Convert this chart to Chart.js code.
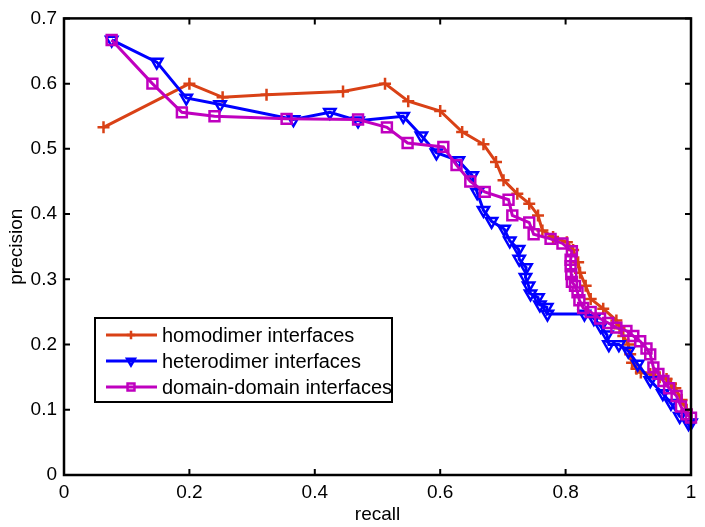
<!DOCTYPE html>
<html>
<head>
<meta charset="utf-8">
<script src="https://cdn.jsdelivr.net/npm/chart.js@4/dist/chart.umd.min.js"></script>
<style>
  html, body { margin: 0; padding: 0; background: #fff; }
  #wrap { width: 705px; height: 527px; position: relative; }
</style>
</head>
<body>
<div id="wrap"><canvas id="prChart"></canvas></div>
<script>
// precision / recall curves
const seriesLabels = ['homodimer interfaces', 'heterodimer interfaces', 'domain-domain interfaces'];

const homoRecall = [0.063, 0.2, 0.253, 0.323, 0.445, 0.512, 0.549, 0.6, 0.635, 0.669, 0.689, 0.701, 0.723, 0.742, 0.756, 0.763, 0.78, 0.802, 0.812, 0.82, 0.823, 0.832, 0.84, 0.86, 0.881, 0.886, 0.892, 0.9, 0.903, 0.906, 0.913, 0.92, 0.935, 0.95, 0.961, 0.968, 0.975, 0.985, 0.993, 1.0];
const homoPrecision = [0.533, 0.6, 0.579, 0.583, 0.588, 0.6, 0.573, 0.558, 0.526, 0.507, 0.48, 0.452, 0.431, 0.416, 0.398, 0.375, 0.365, 0.357, 0.345, 0.326, 0.31, 0.29, 0.27, 0.255, 0.237, 0.225, 0.213, 0.2, 0.185, 0.172, 0.163, 0.157, 0.155, 0.15, 0.147, 0.14, 0.133, 0.115, 0.1, 0.085];

const heteroRecall = [0.076, 0.148, 0.195, 0.249, 0.366, 0.424, 0.469, 0.541, 0.57, 0.594, 0.629, 0.651, 0.659, 0.669, 0.682, 0.702, 0.711, 0.725, 0.726, 0.737, 0.736, 0.741, 0.744, 0.756, 0.759, 0.77, 0.771, 0.83, 0.845, 0.856, 0.866, 0.869, 0.885, 0.9, 0.915, 0.935, 0.955, 0.968, 0.982, 0.996, 1.0];
const heteroPrecision = [0.667, 0.633, 0.578, 0.568, 0.545, 0.556, 0.543, 0.55, 0.52, 0.494, 0.482, 0.459, 0.433, 0.406, 0.389, 0.377, 0.359, 0.346, 0.331, 0.318, 0.303, 0.29, 0.278, 0.272, 0.261, 0.257, 0.247, 0.247, 0.24, 0.228, 0.215, 0.2, 0.2, 0.19, 0.17, 0.145, 0.125, 0.11, 0.09, 0.079, 0.08];

const domainRecall = [0.076, 0.141, 0.188, 0.24, 0.355, 0.469, 0.515, 0.548, 0.605, 0.626, 0.648, 0.671, 0.709, 0.715, 0.742, 0.749, 0.776, 0.795, 0.81, 0.808, 0.808, 0.809, 0.81, 0.815, 0.819, 0.822, 0.828, 0.84, 0.855, 0.868, 0.881, 0.897, 0.908, 0.919, 0.929, 0.935, 0.94, 0.948, 0.956, 0.965, 0.977, 0.984, 0.993, 1.0];
const domainPrecision = [0.667, 0.6, 0.556, 0.55, 0.546, 0.545, 0.533, 0.509, 0.503, 0.475, 0.45, 0.434, 0.422, 0.398, 0.387, 0.369, 0.362, 0.355, 0.343, 0.33, 0.32, 0.308, 0.296, 0.29, 0.28, 0.268, 0.256, 0.25, 0.24, 0.233, 0.226, 0.221, 0.213, 0.205, 0.194, 0.185, 0.165, 0.155, 0.144, 0.133, 0.121, 0.105, 0.093, 0.088];

const xTicks = [0, 0.2, 0.4, 0.6, 0.8, 1];
const yTicks = [0, 0.1, 0.2, 0.3, 0.4, 0.5, 0.6, 0.7];

const FONT = 'Liberation Sans, Arial, sans-serif';
const colors = ['rgb(217,65,22)', 'rgb(0,0,255)', 'rgb(191,0,191)'];
const markers = [
    { style: 'cross', radius: 6, rot: 0 },
    { style: 'triangle', radius: 6.5, rot: 180 },
    { style: 'rect', radius: 7, rot: 0 }
];

function toPoints(xs, ys) {
    return xs.map((x, i) => ({ x: x, y: ys[i] }));
}

function makeSet(i, xs, ys) {
    return {
        label: seriesLabels[i],
        data: toPoints(xs, ys),
        showLine: true,
        borderColor: colors[i],
        borderWidth: 3,
        backgroundColor: 'transparent',
        pointStyle: markers[i].style,
        pointRotation: markers[i].rot,
        pointRadius: markers[i].radius,
        pointBorderWidth: 2.5,
        pointBorderColor: colors[i],
        pointBackgroundColor: 'transparent',
        clip: false,
        order: 3 - i
    };
}

// matlab style box, inward ticks and legend
const matlabFrame = {
    id: 'matlabFrame',
    afterDraw(chart) {
        const ctx = chart.ctx;
        const a = chart.chartArea;
        const xs = chart.scales.x, ys = chart.scales.y;
        const tl = 6;
        ctx.save();
        ctx.strokeStyle = '#000';
        ctx.lineWidth = 2;
        ctx.beginPath();
        xTicks.forEach(v => {
            const px = xs.getPixelForValue(v);
            ctx.moveTo(px, a.bottom); ctx.lineTo(px, a.bottom - tl);
            ctx.moveTo(px, a.top); ctx.lineTo(px, a.top + tl);
        });
        yTicks.forEach(v => {
            const py = ys.getPixelForValue(v);
            ctx.moveTo(a.left, py); ctx.lineTo(a.left + tl, py);
            ctx.moveTo(a.right, py); ctx.lineTo(a.right - tl, py);
        });
        ctx.stroke();
        ctx.lineWidth = 2.5;
        ctx.strokeRect(a.left, a.top, a.right - a.left, a.bottom - a.top);

        // legend
        const lx = 95, ly = 318, lw = 297, lh = 84;
        ctx.lineWidth = 2;
        ctx.fillStyle = '#fff';
        ctx.fillRect(lx, ly, lw, lh);
        ctx.strokeRect(lx, ly, lw, lh);
        ctx.font = '20px ' + FONT;
        ctx.textBaseline = 'middle';
        ctx.textAlign = 'left';
        chart.data.datasets.forEach((ds, i) => {
            const y = ly + 17 + i * 26;
            ctx.strokeStyle = ds.borderColor;
            ctx.lineWidth = 3;
            ctx.beginPath();
            ctx.moveTo(lx + 11, y); ctx.lineTo(lx + 62, y);
            ctx.stroke();
            ctx.lineWidth = 2.5;
            ctx.fillStyle = 'transparent';
            Chart.helpers.drawPoint(ctx, {
                pointStyle: ds.pointStyle,
                rotation: ds.pointRotation,
                radius: ds.pointRadius * 0.7,
                borderWidth: 2.5
            }, lx + 36, y);
            ctx.fillStyle = '#000';
            ctx.fillText(ds.label, lx + 67, y + 1);
        });
        ctx.restore();
    }
};

new Chart(document.getElementById('prChart'), {
    type: 'scatter',
    data: {
        datasets: [
            makeSet(0, homoRecall, homoPrecision),
            makeSet(1, heteroRecall, heteroPrecision),
            makeSet(2, domainRecall, domainPrecision)
        ]
    },
    options: {
        responsive: true,
        maintainAspectRatio: false,
        animation: false,
        layout: { padding: { left: 0, right: 14, top: 13, bottom: 0 } },
        plugins: {
            legend: { display: false },
            tooltip: { enabled: false }
        },
        scales: {
            x: {
                type: 'linear',
                min: 0, max: 1,
                afterBuildTicks: s => { s.ticks = xTicks.map(v => ({ value: v })); },
                afterFit: s => { s.height = 52; },
                grid: { display: false, drawTicks: false },
                border: { display: false },
                ticks: {
                    color: '#000',
                    padding: 6,
                    maxRotation: 0,
                    font: { family: FONT, size: 19 },
                    callback: v => String(+v.toFixed(1))
                },
                title: {
                    display: true,
                    text: 'recall',
                    color: '#000',
                    padding: { top: 0, bottom: 1 },
                    font: { family: FONT, size: 19 }
                }
            },
            y: {
                type: 'linear',
                min: 0, max: 0.7,
                afterBuildTicks: s => { s.ticks = yTicks.map(v => ({ value: v })); },
                afterFit: s => { s.width = 64; },
                grid: { display: false, drawTicks: false },
                border: { display: false },
                ticks: {
                    color: '#000',
                    padding: 7,
                    font: { family: FONT, size: 19 },
                    callback: v => String(+v.toFixed(1))
                },
                title: {
                    display: true,
                    text: 'precision',
                    color: '#000',
                    padding: { top: 5, bottom: 0 },
                    font: { family: FONT, size: 19 }
                }
            }
        }
    },
    plugins: [matlabFrame]
});
</script>
</body>
</html>
